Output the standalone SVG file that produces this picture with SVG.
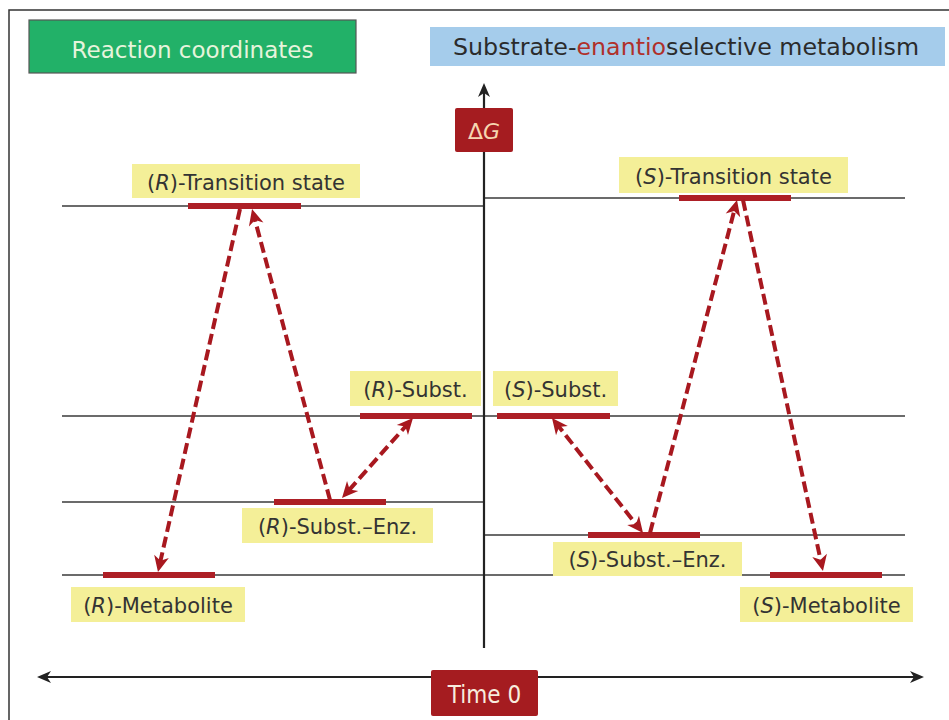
<svg xmlns="http://www.w3.org/2000/svg" width="949" height="720" viewBox="0 0 949 720">
<style>
.lvl{stroke:#3a3a3a;stroke-width:1.4;fill:none}
.bar{stroke:#ad1f26;stroke-width:6;fill:none}
.lab{fill:#f4ef98}
.lt{font-family:"DejaVu Sans","Liberation Sans",sans-serif;font-size:21px;fill:#333;text-anchor:middle}
.it{font-style:italic}
.dash{stroke:#a8181f;stroke-width:4;stroke-dasharray:11 5;fill:none}
.axis{stroke:#222;stroke-width:2.2;fill:none}
</style>
<defs>
<marker id="ah" markerUnits="userSpaceOnUse" markerWidth="18" markerHeight="18" viewBox="0 0 18 18" refX="11" refY="9" orient="auto-start-reverse">
<path d="M1,1.5 L17,9 L1,16.5 L5.5,9 Z" fill="#a8181f"/>
</marker>
<marker id="ax" markerUnits="userSpaceOnUse" markerWidth="16" markerHeight="16" viewBox="0 0 16 16" refX="11" refY="8" orient="auto-start-reverse">
<path d="M1,2 L15,8 L1,14 L5,8 Z" fill="#222"/>
</marker>
</defs>
<rect width="949" height="720" fill="#fff"/>
<g id="frame"><path d="M9,720 V10 H949" stroke="#333" stroke-width="1.5" fill="none"/></g>

<g id="title-left">
<rect x="29" y="20" width="327" height="53" fill="#22b168" stroke="#555" stroke-width="1.2"/>
<text x="192.5" y="58" font-family="DejaVu Sans,sans-serif" font-size="23" fill="#e6f4dc" text-anchor="middle">Reaction coordinates</text>
</g>
<g id="title-right">
<rect x="430" y="27" width="515" height="39" fill="#a5cceb"/>
<text x="686" y="55" font-family="DejaVu Sans,sans-serif" font-size="23" fill="#2b2b2b" text-anchor="middle" textLength="466" lengthAdjust="spacingAndGlyphs">Substrate-<tspan fill="#b0302a">enantio</tspan>selective metabolism</text>
</g>

<g id="levels">
<line class="lvl" x1="62" y1="206" x2="484" y2="206"/>
<line class="lvl" x1="62" y1="416" x2="905" y2="416"/>
<line class="lvl" x1="62" y1="502" x2="484" y2="502"/>
<line class="lvl" x1="62" y1="575" x2="905" y2="575"/>
<line class="lvl" x1="484" y1="198" x2="905" y2="198"/>
<line class="lvl" x1="484" y1="535" x2="905" y2="535"/>
</g>

<g id="axes">
<line class="axis" x1="484" y1="648" x2="484" y2="87" marker-end="url(#ax)"/>
<line class="axis" x1="41" y1="677" x2="920" y2="677" marker-start="url(#ax)" marker-end="url(#ax)"/>
</g>

<g id="dG">
<rect x="455" y="108" width="58" height="44" rx="2" fill="#a51c20"/>
<text x="484" y="139" font-family="DejaVu Sans,sans-serif" font-size="22" fill="#f6d6b0" text-anchor="middle">Δ<tspan font-style="italic">G</tspan></text>
</g>
<g id="time0">
<rect x="431" y="670" width="107" height="46" rx="2" fill="#a51c20"/>
<text x="484.5" y="703" font-family="DejaVu Sans Condensed,Liberation Sans Narrow,Liberation Sans,sans-serif" font-stretch="condensed" font-size="24" fill="#f7ecde" text-anchor="middle">Time 0</text>
</g>

<g id="r-transition">
<line class="bar" x1="188" y1="206" x2="301" y2="206"/>
<rect class="lab" x="132" y="164" width="228" height="34"/>
<text class="lt" x="246" y="190">(<tspan class="it">R</tspan>)-Transition state</text>
</g>
<g id="r-subst">
<line class="bar" x1="360" y1="416" x2="472" y2="416"/>
<rect class="lab" x="350" y="371" width="131" height="35"/>
<text class="lt" x="415.5" y="397">(<tspan class="it">R</tspan>)-Subst.</text>
</g>
<g id="r-subst-enz">
<line class="bar" x1="274" y1="502" x2="386" y2="502"/>
<rect class="lab" x="242" y="508" width="191" height="35"/>
<text class="lt" x="337.5" y="534">(<tspan class="it">R</tspan>)-Subst.–Enz.</text>
</g>
<g id="r-metabolite">
<line class="bar" x1="103" y1="575" x2="215" y2="575"/>
<rect class="lab" x="71" y="587" width="174" height="35"/>
<text class="lt" x="158" y="613">(<tspan class="it">R</tspan>)-Metabolite</text>
</g>
<g id="s-transition">
<line class="bar" x1="679" y1="198" x2="791" y2="198"/>
<rect class="lab" x="619" y="157" width="229" height="36"/>
<text class="lt" x="733.5" y="184">(<tspan class="it">S</tspan>)-Transition state</text>
</g>
<g id="s-subst">
<line class="bar" x1="497" y1="416" x2="610" y2="416"/>
<rect class="lab" x="493" y="371" width="125" height="35"/>
<text class="lt" x="555.5" y="397">(<tspan class="it">S</tspan>)-Subst.</text>
</g>
<g id="s-subst-enz">
<line class="bar" x1="588" y1="535" x2="700" y2="535"/>
<rect class="lab" x="553" y="542" width="189" height="34"/>
<text class="lt" x="647.5" y="567">(<tspan class="it">S</tspan>)-Subst.–Enz.</text>
</g>
<g id="s-metabolite">
<line class="bar" x1="770" y1="575" x2="882" y2="575"/>
<rect class="lab" x="740" y="587" width="173" height="35"/>
<text class="lt" x="826.5" y="613">(<tspan class="it">S</tspan>)-Metabolite</text>
</g>

<g id="connectors">
<line class="dash" x1="240" y1="209" x2="159.3" y2="566.1" marker-end="url(#ah)"/>
<line class="dash" x1="330" y1="500" x2="253.6" y2="214.8" marker-end="url(#ah)"/>
<line class="dash" x1="409" y1="422.5" x2="346" y2="493.5" marker-start="url(#ah)" marker-end="url(#ah)"/>
<line class="dash" x1="555.7" y1="422.7" x2="639.3" y2="528.3" marker-start="url(#ah)" marker-end="url(#ah)"/>
<line class="dash" x1="650" y1="533" x2="735.5" y2="205.8" marker-end="url(#ah)"/>
<line class="dash" x1="743" y1="200" x2="821.7" y2="565.1" marker-end="url(#ah)"/>
</g>
</svg>
